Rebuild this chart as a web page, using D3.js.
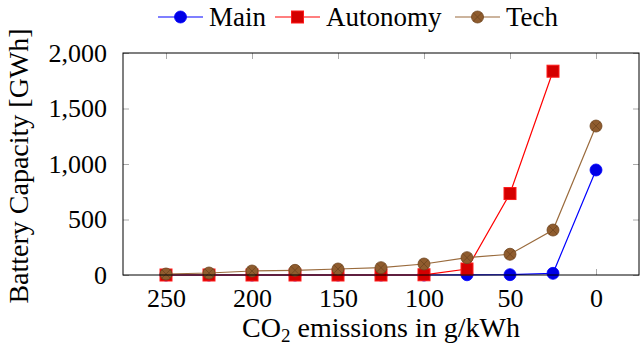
<!DOCTYPE html>
<html>
<head>
<meta charset="utf-8">
<script src="https://cdn.jsdelivr.net/npm/d3@7"></script>
<style>
	body { margin: 0; background: #fff; }
	svg { display: block; }
	.tick line { stroke: #aaa; }
	.domain { display: none; }
</style>
</head>
<body>
<svg id="chart" width="640" height="347"></svg>
<script>
// emissions caps (g/kWh)
var emissions = [250, 225, 200, 175, 150, 125, 100, 75, 50, 25, 0];

// battery capacity in GWh, null where the scenario has no result
var mainValues     = [0, 0, 0, 0, 0, 0, 0, 2, 3, 15, 946];
var autonomyValues = [0, 0, 0, 0, 0, 0, 2, 54, 734, 1836, null];
var techValues     = [9, 18, 36, 42, 54, 66, 99, 156, 187, 405, 1342];

var seriesNames = ['Main', 'Autonomy', 'Tech'];
var xTicks = [250, 200, 150, 100, 50, 0];
var yTicks = [0, 500, 1000, 1500, 2000];

//- - - - - - - - - - - - - - - - - - - - - - - - - - - - - - - - - - - - - - -

var FONT = 'Liberation Serif';

var svg = d3.select('#chart'),
	plot = { left: 123, right: 639, top: 53, bottom: 275 };

var x = d3.scaleLinear().domain([275, -25]).range([plot.left, plot.right]);
var y = d3.scaleLinear().domain([0, 2000]).range([plot.bottom, plot.top]);

var series = [
	{ name: seriesNames[0], values: mainValues, line: '#0000ff', fill: '#0000e6', stroke: '#0000ff', marker: 'circle' },
	{ name: seriesNames[1], values: autonomyValues, line: '#ff0000', fill: '#d40000', stroke: '#ff1a1a', marker: 'square' },
	{ name: seriesNames[2], values: techValues, line: '#9a6b3d', fill: '#8f5c2e', stroke: '#6e4520', marker: 'otimes' }
];

// ticks, pointing inwards on all four sides
var tick = 6;
var axes = [
	svg.append('g')
		.attr('transform', 'translate(0,' + plot.bottom + ')')
		.call(d3.axisBottom(x).tickValues(xTicks).tickSize(-tick).tickPadding(14).tickFormat(d3.format('d'))),
	svg.append('g')
		.attr('transform', 'translate(0,' + plot.top + ')')
		.call(d3.axisTop(x).tickValues(xTicks).tickSize(-tick).tickFormat('')),
	svg.append('g')
		.attr('transform', 'translate(' + plot.left + ',0)')
		.call(d3.axisLeft(y).tickValues(yTicks).tickSize(-tick).tickPadding(16).tickFormat(d3.format(','))),
	svg.append('g')
		.attr('transform', 'translate(' + plot.right + ',0)')
		.call(d3.axisRight(y).tickValues(yTicks).tickSize(-tick).tickFormat(''))
];
axes.forEach(function (a) {
	a.attr('font-family', FONT).attr('font-size', 26);
	a.selectAll('text').attr('fill', '#000');
});

function drawMarker(g, s, cx, cy)
{
	if (s.marker == 'square') {
		g.append('rect')
			.attr('x', cx - 6).attr('y', cy - 6)
			.attr('width', 12).attr('height', 12)
			.attr('fill', s.fill).attr('stroke', s.stroke).attr('stroke-width', 1);
	} else {
		g.append('circle')
			.attr('cx', cx).attr('cy', cy).attr('r', 6)
			.attr('fill', s.fill).attr('stroke', s.stroke).attr('stroke-width', 0.8);
		if (s.marker == 'otimes') {
			var d = 4.2;
			g.append('path')
				.attr('d', 'M' + (cx - d) + ',' + (cy - d) + 'L' + (cx + d) + ',' + (cy + d) +
					'M' + (cx - d) + ',' + (cy + d) + 'L' + (cx + d) + ',' + (cy - d))
				.attr('stroke', s.stroke).attr('stroke-width', 0.8);
		}
	}
}

var line = d3.line()
	.defined(function (d) { return d[1] != null; })
	.x(function (d) { return x(d[0]); })
	.y(function (d) { return y(d[1]); });

series.forEach(function (s) {
	var pts = emissions.map(function (e, i) { return [e, s.values[i]]; });
	var g = svg.append('g');
	g.append('path')
		.attr('d', line(pts))
		.attr('fill', 'none')
		.attr('stroke', s.line)
		.attr('stroke-width', 1.2);
	pts.filter(function (d) { return d[1] != null; }).forEach(function (d) {
		drawMarker(g, s, x(d[0]), y(d[1]));
	});
});

// frame
svg.append('rect')
	.attr('x', plot.left).attr('y', plot.top)
	.attr('width', plot.right - plot.left).attr('height', plot.bottom - plot.top)
	.attr('fill', 'none').attr('stroke', '#000').attr('stroke-width', 1);

// axis titles
var xl = svg.append('text')
	.attr('x', (plot.left + plot.right) / 2).attr('y', 337)
	.attr('text-anchor', 'middle')
	.attr('font-family', FONT).attr('font-size', 28);
xl.append('tspan').text('CO');
xl.append('tspan').attr('font-size', 19).attr('dy', 5).text('2');
xl.append('tspan').attr('dy', -5).text(' emissions in g/kWh');

svg.append('text')
	.attr('transform', 'translate(28,' + ((plot.top + plot.bottom) / 2 + 2) + ') rotate(-90)')
	.attr('text-anchor', 'middle')
	.attr('font-family', FONT).attr('font-size', 28)
	.text('Battery Capacity [GWh]');

// legend
var legendX = [158, 275, 455];
series.forEach(function (s, i) {
	var g = svg.append('g'), lx = legendX[i], ly = 17;
	g.append('line')
		.attr('x1', lx).attr('x2', lx + 45)
		.attr('y1', ly).attr('y2', ly)
		.attr('stroke', s.line).attr('stroke-width', 1.2);
	drawMarker(g, s, lx + 22.5, ly);
	g.append('text')
		.attr('x', lx + 51).attr('y', ly + 9)
		.attr('font-family', FONT).attr('font-size', 27)
		.text(s.name);
});
</script>
</body>
</html>
